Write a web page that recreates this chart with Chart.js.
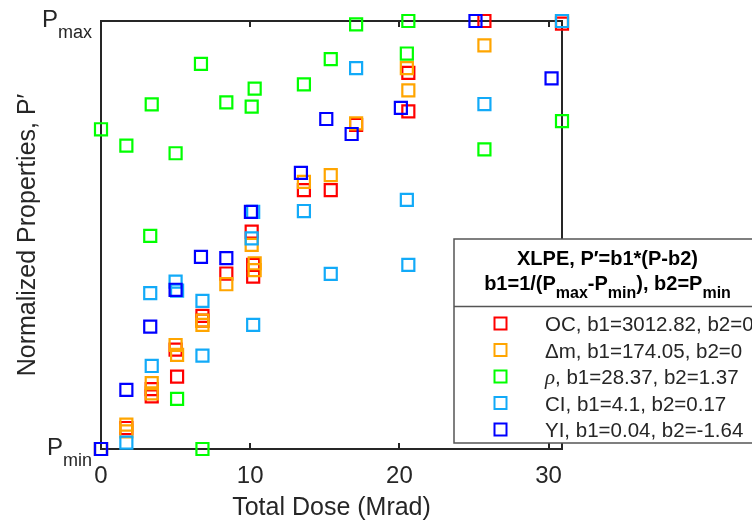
<!DOCTYPE html>
<html>
<head>
<meta charset="utf-8">
<script src="https://cdn.jsdelivr.net/npm/chart.js@4.4.1/dist/chart.umd.min.js"></script>
<style>
  html, body { margin: 0; padding: 0; background: #fff; }
</style>
</head>
<body>
<canvas id="canvas" width="752" height="525"></canvas>
<script>
// normalized property vs. total dose, XLPE
const ocDose = [0, 1.7, 3.4, 3.4, 5.0, 5.1, 6.8, 6.8, 8.4, 10.1, 10.2, 10.2, 13.6, 15.4, 17.1, 20.6, 20.6, 25.7, 30.9];
const ocValue = [0, 0.049, 0.14, 0.123, 0.232, 0.169, 0.311, 0.30, 0.41, 0.508, 0.43, 0.403, 0.605, 0.605, 0.757, 0.879, 0.789, 1.0, 0.994];

const dmDose = [0, 1.7, 1.7, 3.4, 3.4, 5.0, 5.1, 6.8, 6.8, 8.4, 10.1, 10.3, 10.3, 13.6, 15.4, 17.1, 20.5, 20.6, 25.7, 30.9];
const dmValue = [0, 0.057, 0.041, 0.154, 0.13, 0.243, 0.22, 0.30, 0.29, 0.385, 0.477, 0.434, 0.418, 0.624, 0.64, 0.761, 0.89, 0.838, 0.943, 1.0];

const rhoDose = [0, 1.7, 3.4, 3.3, 5.0, 5.1, 6.7, 6.8, 8.4, 10.1, 10.3, 13.6, 15.4, 17.1, 20.5, 20.6, 25.7, 30.9];
const rhoValue = [0.747, 0.709, 0.805, 0.498, 0.691, 0.117, 0.90, 0.0, 0.81, 0.80, 0.842, 0.852, 0.911, 0.992, 0.924, 1.0, 0.70, 0.766];

const ciDose = [0, 1.7, 3.4, 3.3, 5.0, 5.1, 6.8, 6.8, 10.2, 10.1, 10.2, 13.6, 15.4, 17.1, 20.5, 20.6, 25.7, 30.9];
const ciValue = [0, 0.015, 0.194, 0.364, 0.391, 0.37, 0.346, 0.218, 0.554, 0.492, 0.29, 0.556, 0.409, 0.89, 0.582, 0.43, 0.806, 1.0];

const yiDose = [0, 1.7, 3.3, 5.0, 6.7, 8.4, 10.05, 13.4, 15.1, 16.8, 20.1, 25.1, 30.2];
const yiValue = [0, 0.138, 0.286, 0.372, 0.449, 0.446, 0.554, 0.645, 0.771, 0.736, 0.797, 1.0, 0.866];

const seriesLabels = [
  "OC, b1=3012.82, b2=0",
  "\u0394m, b1=174.05, b2=0",
  "\u03C1, b1=28.37, b2=1.37",
  "CI, b1=4.1, b2=0.17",
  "YI, b1=0.04, b2=-1.64"
];
const seriesColors = ["#FF0000", "#FFA500", "#00FF00", "#12AAF8", "#0000FF"];

const yTickValues = [0, 1];
const yTickSubs = ["min", "max"];

const SANS = "'Liberation Sans', Arial, sans-serif";
const INK = "#262626";

function pts(xs, ys) {
  return xs.map((x, i) => ({ x: x, y: ys[i] }));
}

const doses = [ocDose, dmDose, rhoDose, ciDose, yiDose];
const values = [ocValue, dmValue, rhoValue, ciValue, yiValue];

const datasets = seriesLabels.map((label, i) => ({
  label: label,
  data: pts(doses[i], values[i]),
  borderColor: seriesColors[i],
  backgroundColor: "rgba(0,0,0,0)",
  pointStyle: "rect",
  pointRadius: 8.5,
  pointHoverRadius: 8.5,
  pointBorderWidth: 2.2,
  clip: false,
  order: 5 - i   // last series ends up on top
}));

// draws a run of text pieces, some of them lowered as subscripts
function drawRuns(ctx, runs, x, y, align) {
  const widths = runs.map(r => { ctx.font = r.font; return ctx.measureText(r.t).width; });
  const total = widths.reduce((a, b) => a + b, 0);
  let cx = align === "center" ? x - total / 2 : align === "right" ? x - total : x;
  ctx.textAlign = "left";
  ctx.textBaseline = "alphabetic";
  runs.forEach((r, i) => {
    ctx.font = r.font;
    ctx.fillText(r.t, cx, y + (r.dy || 0));
    cx += widths[i];
  });
}

const framePlugin = {
  id: "frame",
  beforeDatasetsDraw(chart) {
    const { ctx, chartArea: a } = chart;
    const xs = chart.scales.x;
    ctx.save();
    ctx.strokeStyle = INK;
    ctx.lineWidth = 2;
    ctx.strokeRect(a.left, a.top, a.right - a.left, a.bottom - a.top);
    ctx.beginPath();
    xs.ticks.forEach(t => {
      if (t.value === 0) return;
      const px = Math.round(xs.getPixelForValue(t.value));
      ctx.moveTo(px, a.bottom); ctx.lineTo(px, a.bottom - 6);
      ctx.moveTo(px, a.top); ctx.lineTo(px, a.top + 6);
    });
    ctx.stroke();
    ctx.restore();
  },
  afterDatasetsDraw(chart) {
    const { ctx } = chart;
    const ys = chart.scales.y;
    ctx.save();
    ctx.fillStyle = INK;
    // P_min / P_max tick labels
    yTickValues.forEach((v, i) => {
      const py = ys.getPixelForValue(v);
      drawRuns(ctx, [
        { t: "P", font: "24px " + SANS },
        { t: yTickSubs[i], font: "18px " + SANS, dy: 11 }
      ], 92, py + 5.5, "right");
    });

    // legend box
    const bx = 454, by = 239, bw = 308, bh = 204, divY = 306.5;
    ctx.fillStyle = "#fff";
    ctx.fillRect(bx, by, bw, bh);
    ctx.strokeStyle = "#555";
    ctx.lineWidth = 1.5;
    ctx.strokeRect(bx, by, bw, bh);
    ctx.beginPath();
    ctx.moveTo(bx, divY); ctx.lineTo(bx + bw, divY);
    ctx.stroke();

    const cx = 607.5;
    const B = "bold 20px " + SANS, Bs = "bold 16px " + SANS;
    ctx.fillStyle = "#000";
    drawRuns(ctx, [{ t: "XLPE, P\u2032=b1*(P-b2)", font: B }], cx, 265, "center");
    drawRuns(ctx, [
      { t: "b1=1/(P", font: B },
      { t: "max", font: Bs, dy: 8 },
      { t: "-P", font: B },
      { t: "min", font: Bs, dy: 8 },
      { t: "), b2=P", font: B },
      { t: "min", font: Bs, dy: 8 }
    ], cx, 290, "center");

    chart.data.datasets.forEach((ds, i) => {
      const ry = 323.5 + i * 26.5;
      ctx.strokeStyle = ds.borderColor;
      ctx.lineWidth = 2;
      ctx.strokeRect(494.5, ry - 6, 12, 12);
      ctx.fillStyle = INK;
      const label = ds.label;
      const F = "20.5px " + SANS;
      if (label.charAt(0) === "\u03C1") {
        drawRuns(ctx, [
          { t: "\u03C1", font: "italic 21px 'Liberation Serif', 'Times New Roman', serif" },
          { t: label.slice(1), font: F }
        ], 545, ry + 7.5, "left");
      } else {
        drawRuns(ctx, [{ t: label, font: F }], 545, ry + 7.5, "left");
      }
    });
    ctx.restore();
  }
};

const ctx = document.getElementById("canvas").getContext("2d");

new Chart(ctx, {
  type: "scatter",
  data: { datasets: datasets },
  plugins: [framePlugin],
  options: {
    responsive: false,
    animation: false,
    devicePixelRatio: 1,
    layout: {
      autoPadding: false,
      padding: { left: 0, top: 21, right: 190, bottom: 0 }
    },
    plugins: {
      legend: { display: false },
      tooltip: { enabled: false }
    },
    scales: {
      x: {
        type: "linear",
        min: 0,
        max: 30.9,
        grid: { display: false },
        border: { display: false },
        ticks: {
          stepSize: 10,
          includeBounds: false,
          padding: 5,
          color: INK,
          font: { family: SANS, size: 24 }
        },
        title: {
          display: true,
          text: "Total Dose (Mrad)",
          color: INK,
          font: { family: SANS, size: 25 },
          padding: { top: 2, bottom: 1.5 }
        },
        afterFit(scale) { scale.height = 76; }
      },
      y: {
        type: "linear",
        min: 0,
        max: 1,
        grid: { display: false },
        border: { display: false },
        ticks: { display: false },
        afterBuildTicks(scale) { scale.ticks = yTickValues.map(v => ({ value: v })); },
        title: {
          display: true,
          text: "Normalized Properties, P\u2032",
          color: INK,
          font: { family: SANS, size: 25 },
          padding: { top: 13, bottom: 4 }
        },
        afterFit(scale) { scale.width = 101; }
      }
    }
  }
});
</script>
</body>
</html>
